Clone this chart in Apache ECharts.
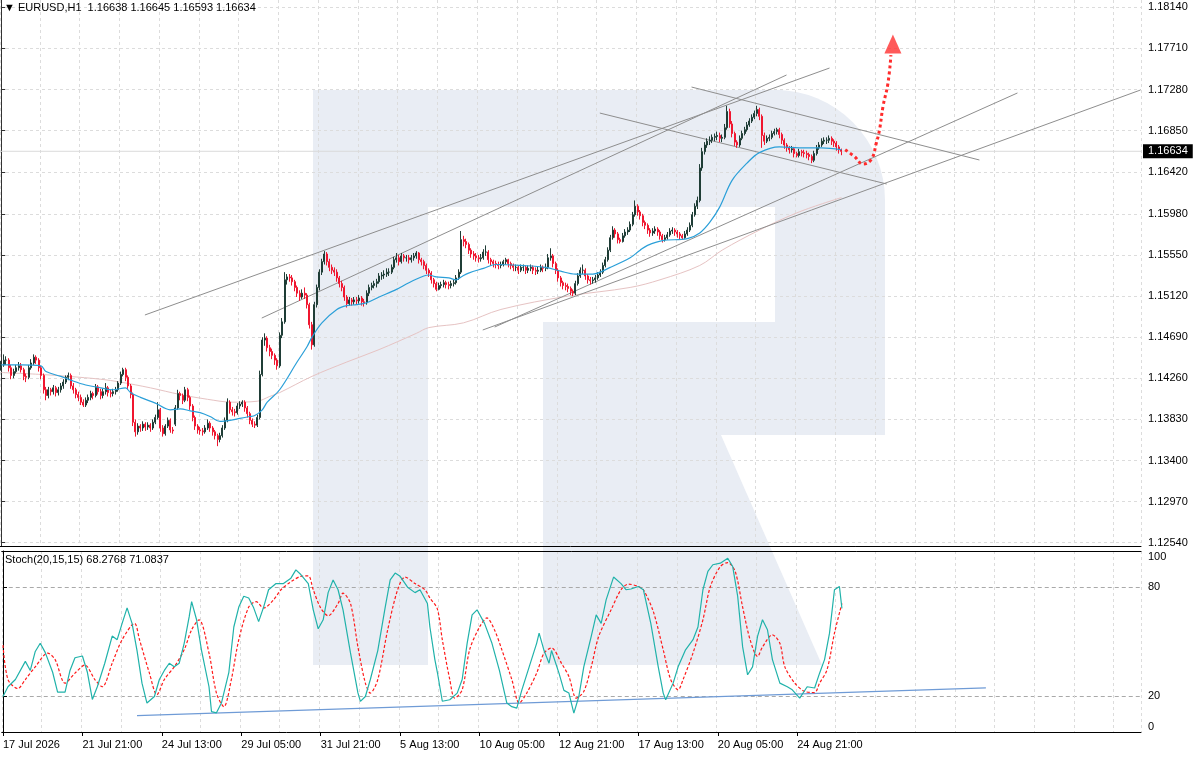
<!DOCTYPE html>
<html><head><meta charset="utf-8">
<script src="https://cdn.jsdelivr.net/npm/echarts@6.0.0/dist/echarts.min.js"></script>
<style>html,body{margin:0;padding:0;background:#fff}#c{width:1200px;height:757px}</style>
</head><body><div id="c"></div>
<script>
const headerText = '\u25BC EURUSD,H1  1.16638 1.16645 1.16593 1.16634';
const stochText = 'Stoch(20,15,15) 68.2768 71.0837';
const timeLabels = ['17 Jul 2026','21 Jul 21:00','24 Jul 13:00','29 Jul 05:00','31 Jul 21:00','5 Aug 13:00','10 Aug 05:00','12 Aug 21:00','17 Aug 13:00','20 Aug 05:00','24 Aug 21:00'];
const priceTicks = [1.12540,1.12970,1.13400,1.13830,1.14260,1.14690,1.15120,1.15550,1.15980,1.16420,1.16850,1.17280,1.17710,1.18140];
const stochTicks = [0,20,80,100];
const lastPrice = 1.16634;
const NCAT = 459;
// 2-hour candles: [open, close, low, high]
const candles = [
[1.1437,1.1440,1.1434,1.1444],[1.1440,1.1445,1.1438,1.1451],[1.1445,1.1445,1.1440,1.1449],[1.1445,1.1437,1.1433,1.1447],[1.1437,1.1429,1.1425,1.1440],
[1.1429,1.1433,1.1426,1.1436],[1.1433,1.1437,1.1431,1.1440],[1.1437,1.1439,1.1434,1.1443],[1.1439,1.1435,1.1432,1.1442],[1.1435,1.1428,1.1424,1.1437],
[1.1428,1.1427,1.1422,1.1431],[1.1427,1.1437,1.1425,1.1440],[1.1437,1.1442,1.1435,1.1446],[1.1442,1.1448,1.1440,1.1451],[1.1448,1.1445,1.1441,1.1450],
[1.1445,1.1437,1.1433,1.1447],[1.1437,1.1429,1.1425,1.1439],[1.1429,1.1414,1.1410,1.1431],[1.1414,1.1408,1.1403,1.1417],[1.1408,1.1414,1.1405,1.1417],
[1.1414,1.1412,1.1408,1.1416],[1.1412,1.1416,1.1409,1.1419],[1.1416,1.1411,1.1407,1.1418],[1.1411,1.1414,1.1408,1.1417],[1.1414,1.1418,1.1411,1.1421],
[1.1418,1.1422,1.1415,1.1425],[1.1422,1.1427,1.1420,1.1429],[1.1427,1.1429,1.1424,1.1432],[1.1429,1.1418,1.1415,1.1431],[1.1418,1.1414,1.1410,1.1421],
[1.1414,1.1409,1.1405,1.1416],[1.1409,1.1406,1.1402,1.1412],[1.1406,1.1401,1.1398,1.1409],[1.1401,1.1398,1.1396,1.1404],[1.1398,1.1403,1.1396,1.1406],
[1.1403,1.1406,1.1400,1.1409],[1.1406,1.1410,1.1403,1.1413],[1.1410,1.1408,1.1404,1.1412],[1.1408,1.1417,1.1406,1.1420],[1.1417,1.1412,1.1409,1.1419],
[1.1412,1.1408,1.1404,1.1415],[1.1408,1.1412,1.1405,1.1415],[1.1412,1.1416,1.1409,1.1421],[1.1416,1.1411,1.1407,1.1418],[1.1411,1.1410,1.1406,1.1414],
[1.1410,1.1412,1.1407,1.1415],[1.1412,1.1414,1.1409,1.1417],[1.1414,1.1421,1.1412,1.1423],[1.1421,1.1430,1.1419,1.1433],[1.1430,1.1435,1.1428,1.1437],
[1.1435,1.1427,1.1423,1.1437],[1.1427,1.1418,1.1414,1.1429],[1.1418,1.1409,1.1405,1.1420],[1.1409,1.1380,1.1376,1.1411],[1.1380,1.1370,1.1365,1.1383],
[1.1370,1.1376,1.1367,1.1379],[1.1376,1.1374,1.1370,1.1378],[1.1374,1.1378,1.1371,1.1381],[1.1378,1.1375,1.1371,1.1380],[1.1375,1.1377,1.1372,1.1380],
[1.1377,1.1374,1.1370,1.1379],[1.1374,1.1380,1.1372,1.1383],[1.1380,1.1385,1.1378,1.1388],[1.1385,1.1393,1.1383,1.1401],[1.1393,1.1374,1.1370,1.1395],
[1.1374,1.1368,1.1365,1.1377],[1.1368,1.1376,1.1366,1.1378],[1.1376,1.1382,1.1374,1.1385],[1.1382,1.1372,1.1369,1.1384],[1.1372,1.1371,1.1368,1.1375],
[1.1378,1.1395,1.1376,1.1398],[1.1395,1.1410,1.1393,1.1414],[1.1410,1.1408,1.1403,1.1412],[1.1408,1.1403,1.1399,1.1410],[1.1403,1.1414,1.1401,1.1417],
[1.1414,1.1406,1.1402,1.1416],[1.1406,1.1397,1.1393,1.1408],[1.1397,1.1385,1.1381,1.1399],[1.1385,1.1376,1.1372,1.1387],[1.1376,1.1372,1.1368,1.1378],
[1.1372,1.1371,1.1367,1.1375],[1.1371,1.1370,1.1366,1.1374],[1.1370,1.1374,1.1368,1.1377],[1.1374,1.1379,1.1372,1.1383],[1.1379,1.1374,1.1370,1.1381],
[1.1374,1.1370,1.1366,1.1376],[1.1370,1.1366,1.1362,1.1372],[1.1366,1.1362,1.1355,1.1368],[1.1362,1.1366,1.1359,1.1369],[1.1366,1.1374,1.1364,1.1377],
[1.1374,1.1382,1.1372,1.1385],[1.1382,1.1401,1.1380,1.1405],[1.1401,1.1393,1.1389,1.1403],[1.1393,1.1391,1.1387,1.1396],[1.1391,1.1390,1.1386,1.1394],
[1.1390,1.1397,1.1388,1.1400],[1.1397,1.1399,1.1394,1.1402],[1.1399,1.1401,1.1396,1.1403],[1.1401,1.1395,1.1391,1.1403],[1.1395,1.1389,1.1385,1.1397],
[1.1389,1.1382,1.1378,1.1391],[1.1382,1.1378,1.1375,1.1384],[1.1378,1.1377,1.1374,1.1381],[1.1377,1.1385,1.1375,1.1388],[1.1385,1.1430,1.1383,1.1434],
[1.1430,1.1466,1.1428,1.1469],[1.1466,1.1468,1.1460,1.1473],[1.1468,1.1458,1.1454,1.1470],[1.1458,1.1454,1.1449,1.1461],[1.1454,1.1450,1.1446,1.1457],
[1.1450,1.1445,1.1440,1.1452],[1.1445,1.1439,1.1435,1.1447],[1.1439,1.1471,1.1437,1.1474],[1.1471,1.1485,1.1468,1.1489],[1.1485,1.1529,1.1483,1.1537],
[1.1529,1.1532,1.1524,1.1535],[1.1532,1.1531,1.1527,1.1535],[1.1531,1.1527,1.1523,1.1534],[1.1527,1.1521,1.1517,1.1529],[1.1521,1.1515,1.1511,1.1523],
[1.1515,1.1511,1.1507,1.1518],[1.1511,1.1515,1.1509,1.1519],[1.1515,1.1513,1.1509,1.1521],[1.1513,1.1503,1.1499,1.1515],[1.1503,1.1482,1.1478,1.1505],
[1.1482,1.1461,1.1456,1.1485],[1.1461,1.1503,1.1459,1.1506],[1.1503,1.1521,1.1500,1.1524],[1.1521,1.1537,1.1518,1.1540],[1.1537,1.1548,1.1534,1.1551],
[1.1548,1.1556,1.1545,1.1559],[1.1556,1.1548,1.1544,1.1558],[1.1548,1.1542,1.1538,1.1551],[1.1542,1.1539,1.1535,1.1545],[1.1539,1.1537,1.1533,1.1542],
[1.1537,1.1531,1.1527,1.1540],[1.1531,1.1525,1.1521,1.1533],[1.1525,1.1521,1.1517,1.1528],[1.1521,1.1511,1.1507,1.1523],[1.1511,1.1504,1.1500,1.1513],
[1.1504,1.1508,1.1502,1.1511],[1.1508,1.1506,1.1502,1.1510],[1.1506,1.1508,1.1503,1.1511],[1.1508,1.1507,1.1503,1.1511],[1.1507,1.1510,1.1504,1.1513],
[1.1510,1.1506,1.1502,1.1512],[1.1506,1.1505,1.1501,1.1509],[1.1505,1.1515,1.1503,1.1518],[1.1515,1.1521,1.1512,1.1524],[1.1521,1.1523,1.1518,1.1526],
[1.1523,1.1525,1.1520,1.1528],[1.1525,1.1527,1.1521,1.1530],[1.1527,1.1533,1.1525,1.1536],[1.1533,1.1534,1.1529,1.1537],[1.1534,1.1535,1.1530,1.1539],
[1.1535,1.1537,1.1532,1.1541],[1.1537,1.1537,1.1533,1.1541],[1.1537,1.1542,1.1535,1.1545],[1.1542,1.1550,1.1540,1.1553],[1.1550,1.1552,1.1547,1.1557],
[1.1552,1.1548,1.1544,1.1555],[1.1548,1.1554,1.1546,1.1557],[1.1554,1.1552,1.1548,1.1556],[1.1552,1.1552,1.1548,1.1555],[1.1552,1.1550,1.1546,1.1555],
[1.1550,1.1552,1.1547,1.1555],[1.1552,1.1554,1.1549,1.1557],[1.1554,1.1557,1.1551,1.1559],[1.1557,1.1550,1.1546,1.1558],[1.1550,1.1548,1.1544,1.1552],
[1.1548,1.1544,1.1540,1.1550],[1.1544,1.1539,1.1535,1.1546],[1.1539,1.1536,1.1532,1.1541],[1.1536,1.1529,1.1525,1.1538],[1.1529,1.1525,1.1521,1.1531],
[1.1525,1.1519,1.1517,1.1527],[1.1519,1.1523,1.1518,1.1526],[1.1523,1.1524,1.1520,1.1527],[1.1524,1.1526,1.1521,1.1529],[1.1526,1.1524,1.1520,1.1528],
[1.1524,1.1523,1.1519,1.1527],[1.1523,1.1525,1.1520,1.1528],[1.1525,1.1526,1.1522,1.1529],[1.1526,1.1531,1.1524,1.1534],[1.1531,1.1537,1.1529,1.1540],
[1.1537,1.1571,1.1535,1.1580],[1.1571,1.1569,1.1564,1.1575],[1.1569,1.1566,1.1562,1.1572],[1.1566,1.1560,1.1556,1.1568],[1.1560,1.1556,1.1552,1.1562],
[1.1556,1.1554,1.1550,1.1559],[1.1554,1.1552,1.1548,1.1557],[1.1552,1.1551,1.1547,1.1555],[1.1551,1.1552,1.1548,1.1556],[1.1552,1.1558,1.1550,1.1561],
[1.1558,1.1558,1.1554,1.1565],[1.1558,1.1550,1.1546,1.1560],[1.1550,1.1548,1.1544,1.1552],[1.1548,1.1546,1.1542,1.1550],[1.1546,1.1545,1.1541,1.1549],
[1.1545,1.1544,1.1540,1.1548],[1.1544,1.1545,1.1541,1.1548],[1.1545,1.1548,1.1543,1.1550],[1.1548,1.1550,1.1545,1.1552],[1.1550,1.1546,1.1542,1.1551],
[1.1546,1.1544,1.1540,1.1548],[1.1544,1.1542,1.1538,1.1546],[1.1542,1.1542,1.1538,1.1545],[1.1542,1.1539,1.1535,1.1544],[1.1539,1.1542,1.1537,1.1545],
[1.1542,1.1542,1.1538,1.1545],[1.1542,1.1539,1.1535,1.1544],[1.1539,1.1541,1.1536,1.1544],[1.1541,1.1542,1.1538,1.1545],[1.1542,1.1539,1.1535,1.1544],
[1.1539,1.1538,1.1534,1.1542],[1.1538,1.1539,1.1535,1.1543],[1.1539,1.1542,1.1537,1.1545],[1.1542,1.1541,1.1537,1.1544],[1.1541,1.1542,1.1538,1.1546],
[1.1542,1.1552,1.1540,1.1556],[1.1552,1.1554,1.1549,1.1562],[1.1554,1.1546,1.1542,1.1556],[1.1546,1.1539,1.1535,1.1548],[1.1539,1.1531,1.1527,1.1541],
[1.1531,1.1526,1.1522,1.1533],[1.1526,1.1523,1.1519,1.1528],[1.1523,1.1522,1.1518,1.1526],[1.1522,1.1520,1.1516,1.1525],[1.1520,1.1517,1.1513,1.1522],
[1.1517,1.1515,1.1512,1.1519],[1.1515,1.1525,1.1513,1.1528],[1.1525,1.1533,1.1523,1.1536],[1.1533,1.1539,1.1531,1.1542],[1.1539,1.1539,1.1535,1.1545],
[1.1539,1.1533,1.1529,1.1541],[1.1533,1.1529,1.1525,1.1535],[1.1529,1.1528,1.1524,1.1532],[1.1528,1.1529,1.1525,1.1532],[1.1529,1.1531,1.1526,1.1534],
[1.1531,1.1534,1.1529,1.1537],[1.1534,1.1537,1.1532,1.1540],[1.1537,1.1544,1.1535,1.1547],[1.1544,1.1550,1.1542,1.1553],[1.1550,1.1560,1.1548,1.1563],
[1.1560,1.1573,1.1558,1.1576],[1.1573,1.1581,1.1571,1.1585],[1.1581,1.1577,1.1573,1.1583],[1.1577,1.1571,1.1567,1.1579],[1.1571,1.1569,1.1567,1.1573],
[1.1569,1.1575,1.1568,1.1578],[1.1575,1.1579,1.1573,1.1582],[1.1579,1.1581,1.1576,1.1584],[1.1581,1.1587,1.1579,1.1590],[1.1587,1.1597,1.1585,1.1600],
[1.1597,1.1606,1.1595,1.1612],[1.1606,1.1600,1.1596,1.1608],[1.1600,1.1596,1.1592,1.1602],[1.1596,1.1589,1.1585,1.1598],[1.1589,1.1586,1.1582,1.1591],
[1.1586,1.1581,1.1577,1.1588],[1.1581,1.1578,1.1574,1.1583],[1.1578,1.1580,1.1575,1.1583],[1.1580,1.1582,1.1577,1.1585],[1.1582,1.1579,1.1575,1.1584],
[1.1579,1.1575,1.1571,1.1581],[1.1575,1.1571,1.1568,1.1577],[1.1571,1.1573,1.1569,1.1576],[1.1573,1.1576,1.1571,1.1579],[1.1576,1.1580,1.1574,1.1583],
[1.1580,1.1581,1.1577,1.1584],[1.1581,1.1579,1.1575,1.1583],[1.1579,1.1577,1.1573,1.1581],[1.1577,1.1575,1.1571,1.1579],[1.1575,1.1573,1.1571,1.1577],
[1.1573,1.1577,1.1572,1.1580],[1.1577,1.1581,1.1575,1.1584],[1.1581,1.1586,1.1579,1.1589],[1.1586,1.1597,1.1584,1.1600],[1.1597,1.1606,1.1595,1.1609],
[1.1606,1.1612,1.1603,1.1616],[1.1612,1.1646,1.1610,1.1650],[1.1646,1.1663,1.1643,1.1667],[1.1663,1.1670,1.1660,1.1673],[1.1670,1.1674,1.1667,1.1677],
[1.1674,1.1675,1.1670,1.1679],[1.1675,1.1678,1.1672,1.1681],[1.1678,1.1679,1.1674,1.1682],[1.1679,1.1680,1.1675,1.1684],[1.1680,1.1677,1.1673,1.1683],
[1.1677,1.1678,1.1673,1.1681],[1.1678,1.1688,1.1676,1.1692],[1.1688,1.1705,1.1686,1.1711],[1.1705,1.1692,1.1688,1.1708],[1.1692,1.1682,1.1678,1.1695],
[1.1682,1.1673,1.1669,1.1684],[1.1673,1.1670,1.1667,1.1675],[1.1670,1.1677,1.1668,1.1680],[1.1677,1.1682,1.1675,1.1685],[1.1682,1.1686,1.1680,1.1689],
[1.1686,1.1691,1.1684,1.1694],[1.1691,1.1695,1.1689,1.1698],[1.1695,1.1699,1.1693,1.1702],[1.1699,1.1703,1.1697,1.1706],[1.1703,1.1707,1.1700,1.1711],
[1.1707,1.1700,1.1696,1.1709],[1.1700,1.1680,1.1667,1.1702],[1.1680,1.1674,1.1670,1.1683],[1.1674,1.1677,1.1672,1.1680],[1.1677,1.1678,1.1674,1.1681],
[1.1678,1.1682,1.1676,1.1685],[1.1682,1.1684,1.1680,1.1687],[1.1684,1.1686,1.1681,1.1688],[1.1686,1.1681,1.1677,1.1688],[1.1681,1.1675,1.1671,1.1683],
[1.1675,1.1670,1.1666,1.1677],[1.1670,1.1667,1.1663,1.1672],[1.1667,1.1665,1.1661,1.1669],[1.1665,1.1666,1.1662,1.1669],[1.1666,1.1661,1.1657,1.1668],
[1.1661,1.1659,1.1657,1.1663],[1.1659,1.1663,1.1657,1.1666],[1.1663,1.1662,1.1658,1.1665],[1.1662,1.1661,1.1657,1.1665],[1.1661,1.1660,1.1656,1.1664],
[1.1660,1.1658,1.1654,1.1662],[1.1658,1.1654,1.1651,1.1660],[1.1654,1.1661,1.1652,1.1664],[1.1661,1.1667,1.1659,1.1670],[1.1667,1.1670,1.1665,1.1673],
[1.1670,1.1674,1.1668,1.1677],[1.1674,1.1675,1.1671,1.1678],[1.1675,1.1675,1.1671,1.1678],[1.1675,1.1677,1.1672,1.1680],[1.1677,1.1674,1.1670,1.1679],
[1.1674,1.1672,1.1668,1.1676],[1.1672,1.1668,1.1664,1.1674],[1.1668,1.1665,1.1661,1.1670],[1.16650,1.16634,1.16593,1.16662]
];
// moving averages as [bar index, price]
const maBlue = [[0,1.1440],[8,1.1440],[16,1.1439],[18,1.1433],[24,1.1428],[28,1.1424],[34,1.1419],[40,1.1416],[45,1.1414],[50,1.1416],[52,1.1411],[56,1.1406],[62,1.1400],[68,1.1393],[72,1.1394],[76,1.1392],[80,1.1390],[84,1.1386],[88,1.1381],[92,1.1382],[96,1.1384],[100,1.1386],[102,1.1387],[105,1.1393],[107,1.1401],[112,1.1414],[119,1.1443],[123,1.1459],[125,1.1469],[129,1.1484],[135,1.1498],[139,1.1502],[143,1.1503],[147,1.1505],[152,1.1511],[159,1.1519],[164,1.1526],[170,1.1533],[172,1.1534],[175,1.1532],[180,1.1531],[183,1.1529],[185,1.1532],[188,1.1536],[194,1.1541],[199,1.1545],[209,1.1544],[219,1.1542],[225,1.1538],[231,1.1535],[238,1.1535],[245,1.1542],[253,1.1552],[257,1.1560],[260,1.1565],[266,1.1570],[276,1.1572],[281,1.1578],[285,1.1589],[289,1.1605],[294,1.1633],[300,1.1651],[305,1.1662],[313,1.1668],[321,1.1667],[330,1.1667],[338,1.1665]];
const maPink = [[0,1.1432],[16,1.1430],[27,1.1428],[40,1.1425],[48,1.1422],[60,1.1416],[72,1.1409],[83,1.1404],[93,1.1401],[103,1.1402],[108,1.1407],[112,1.1411],[125,1.1428],[139,1.1443],[152,1.1456],[167,1.1473],[172,1.1479],[186,1.1484],[201,1.1498],[228,1.1512],[253,1.1521],[265,1.1529],[281,1.1544],[290,1.1560],[305,1.1581],[321,1.1600],[338,1.1615]];
// stochastic %K and %D as [bar index, value]
const stochK = [[0,19.6],[2,25],[5,29],[9,39],[11,34],[13,44.5],[15,49],[17,44],[20,33],[22,22],[25,22],[27,34],[29,41],[32,42],[34,33],[36,18],[38,25],[41,38],[44,53],[46,51],[48,60],[50,68.6],[52,60],[54,45],[56,27],[58,16],[61,19.6],[63,29],[65,34],[67,38],[69,36],[71,38],[73,49],[75,63.6],[76,72],[78,62],[80,45],[83,25],[84,11.3],[86,10.6],[88,16],[91,33],[93,58],[95,69],[97,75],[99,74],[101,68.6],[103,61],[105,69],[107,78.6],[110,82],[113,82],[116,85],[118,89.6],[120,87],[123,82],[125,67.5],[127,57],[129,62],[131,77],[133,84],[135,78.6],[137,67.5],[140,43.7],[143,21.6],[144,16.9],[146,19.6],[148,29],[151,45],[154,69],[156,84],[158,87.8],[160,86],[163,80],[166,77],[168,78.6],[171,71],[172,58],[174,40],[175,33],[177,17],[180,17.8],[183,21.5],[185,29],[187,49],[189,64.7],[191,67.5],[194,60],[197,49],[200,34],[203,16],[205,14],[207,13.2],[209,23],[212,36],[215,49],[216,54.6],[218,45],[220,38],[221,45],[224,32.5],[226,23],[228,21.5],[230,10.4],[232,19.6],[234,36],[237,52.8],[239,64.7],[241,60],[243,73],[246,85.6],[249,82],[251,78.6],[253,79],[256,80.4],[258,78.6],[261,60],[264,36],[266,21.5],[267,17.8],[270,27],[272,36],[275,45.4],[278,51],[280,58],[282,78.6],[284,88.7],[286,92.4],[289,93.3],[292,96],[294,91.4],[296,75],[298,47],[300,31.6],[302,36],[304,52.8],[306,62],[308,56.5],[310,40],[313,27],[316,25],[318,23.3],[321,18.7],[324,25],[327,24.3],[329,32.5],[331,40],[333,54.6],[335,78.6],[337,80.4],[338,68.3]];
const stochD = [[0,48],[2,29],[6,24],[9,29],[13,36],[18,43.6],[21,40],[25,27],[29,32.5],[33,37],[37,29],[40,25],[44,38],[48,51],[53,60],[55,51],[59,32.5],[62,20.6],[65,29],[69,36],[73,45.4],[76,56.5],[79,62],[83,43.6],[86,21.5],[89,14],[92,29],[95,51],[99,69],[102,72],[105,68.5],[109,73],[112,78.6],[116,83],[120,86],[123,86.3],[125,78.6],[128,68.5],[131,64.2],[135,71],[137,76.7],[140,71],[143,47],[146,27],[148,21.5],[151,29],[155,56.5],[159,78.6],[162,85.6],[166,82],[170,78.6],[172,74],[175,68],[177,51],[180,29],[182,18.7],[185,23.3],[188,45.4],[192,58],[195,63],[198,56.5],[201,45.4],[205,29],[208,16],[211,21.5],[215,32.5],[218,43.6],[221,46.4],[225,38],[228,30.7],[231,18.7],[234,22.4],[237,36],[240,52.8],[245,67.5],[249,78.6],[252,81.7],[256,80.4],[258,78.6],[262,66.6],[266,45.4],[269,29],[272,23.3],[274,29],[278,43.6],[282,62],[285,80.4],[289,91.4],[292,93.6],[295,88.7],[298,69],[301,51],[304,41.7],[306,47],[310,53.7],[313,49],[315,36],[319,27],[323,22.4],[327,21.8],[329,27],[332,34.4],[335,54.6],[338,71.1]];
// drawn trend lines: [[bar, price],[bar, price]]
const trendLines = [
  [[57.8,1.14922],[333.2,1.17505]],
  [[104.8,1.14890],[315.9,1.17432]],
  [[198.5,1.14796],[408.8,1.17244]],
  [[193.7,1.14765],[458.3,1.17275]],
  [[277.7,1.17306],[393.5,1.16543]],
  [[240.8,1.17034],[356.2,1.16292]]
];
const stochTrend = [[54,9.0],[396,24.4]];
const forecast = [[339.5,1.16650],[343.3,1.16578],[346.6,1.16501],[350,1.16550],[352,1.16718],[353.3,1.16857],[354.7,1.17101],[356.7,1.17345],[357.9,1.17640]];
const forecastHead = [[358.7,1.17756]];
const priceLine = [[-0.5,lastPrice],[NCAT - 0.5,lastPrice]];

const FONT = 'Liberation Sans, Arial, sans-serif';
const cats = Array.from({length: NCAT}, (_, i) => String(i));
const gridLine = {show: true, interval: (i) => i % 16 === 0, lineStyle: {color: '#dcdcdc', type: [3, 3], width: 1}};
const labelIdx = (i) => i % 32 === 0 && (i / 32) < timeLabels.length;
const wm = '#e9edf4';

const chart = echarts.init(document.getElementById('c'));
chart.setOption({
  animation: false,
  backgroundColor: '#fff',
  title: [
    {text: headerText, left: 4, top: 2, padding: 0, textStyle: {fontSize: 11, fontWeight: 'normal', color: '#000', fontFamily: FONT}},
    {text: stochText, left: 5, top: 554, padding: 0, textStyle: {fontSize: 11, fontWeight: 'normal', color: '#000', fontFamily: FONT}}
  ],
  graphic: {elements: [
    {type: 'rect', z: -10, silent: true, shape: {x: 313, y: 90, width: 115, height: 575}, style: {fill: wm}},
    {type: 'rect', z: -10, silent: true, shape: {x: 313, y: 90, width: 470, height: 117}, style: {fill: wm}},
    {type: 'rect', z: -10, silent: true, shape: {x: 775, y: 90, width: 110, height: 345, r: [0, 110, 0, 0]}, style: {fill: wm}},
    {type: 'rect', z: -10, silent: true, shape: {x: 543, y: 322, width: 342, height: 113}, style: {fill: wm}},
    {type: 'polygon', z: -10, silent: true, shape: {points: [[543, 435], [721, 435], [822, 665], [543, 665]]}, style: {fill: wm}}
  ]},
  grid: [
    {left: 0, right: 59, top: 0, height: 546},
    {left: 0, right: 59, top: 551, height: 181}
  ],
  xAxis: [
    {type: 'category', gridIndex: 0, data: cats, boundaryGap: true,
     axisLine: {show: true, lineStyle: {color: '#000', width: 1}}, axisTick: {show: false}, axisLabel: {show: false},
     splitLine: gridLine},
    {type: 'value', gridIndex: 0, min: -0.5, max: NCAT - 0.5, show: false},
    {type: 'category', gridIndex: 1, data: cats, boundaryGap: true,
     axisLine: {show: true, lineStyle: {color: '#000', width: 1}},
     axisTick: {show: true, interval: labelIdx, alignWithLabel: true, length: 4, lineStyle: {color: '#000'}},
     axisLabel: {interval: labelIdx, formatter: (v) => timeLabels[Math.round(Number(v) / 32)] || '', align: 'left', margin: 7, color: '#000', fontSize: 11, fontFamily: FONT},
     splitLine: gridLine},
    {type: 'value', gridIndex: 1, min: -0.5, max: NCAT - 0.5, position: 'top',
     axisLine: {show: true, onZero: false, lineStyle: {color: '#000', width: 1}}, axisTick: {show: false}, axisLabel: {show: false}, splitLine: {show: false}}
  ],
  yAxis: [
    {type: 'value', gridIndex: 0, position: 'right', min: 1.125058, max: 1.182164,
     axisLine: {show: true, lineStyle: {color: '#333', width: 1}},
     axisTick: {show: true, length: 4, customValues: priceTicks, lineStyle: {color: '#333'}},
     axisLabel: {customValues: priceTicks, formatter: (v) => v.toFixed(5), margin: 7, color: '#000', fontSize: 11, fontFamily: FONT},
     splitLine: {show: true, lineStyle: {color: '#dcdcdc', type: [3, 3], width: 1}}},
    {type: 'value', gridIndex: 1, position: 'right', min: 0, max: 100,
     axisLine: {show: true, lineStyle: {color: '#000', width: 1}},
     axisTick: {show: true, length: 4, customValues: stochTicks, lineStyle: {color: '#000'}},
     axisLabel: {customValues: stochTicks, margin: 7, color: '#000', fontSize: 11, fontFamily: FONT, verticalAlignMinLabel: 'bottom', verticalAlignMaxLabel: 'top'},
     splitLine: {show: true, lineStyle: {color: '#a9a9a9', type: [4, 3], width: 1}}}
  ],
  series: [
    {type: 'line', xAxisIndex: 1, yAxisIndex: 0, data: priceLine, symbol: 'none', z: 2, silent: true,
     lineStyle: {color: '#dadada', width: 1},
     endLabel: {show: true, formatter: () => lastPrice.toFixed(5), backgroundColor: '#000', color: '#fff', padding: [2, 5, 1, 5], fontSize: 11, fontFamily: FONT, distance: 2}},
    {type: 'candlestick', xAxisIndex: 0, yAxisIndex: 0, data: candles, barWidth: 1.5, z: 4,
     itemStyle: {color: '#1f3d36', color0: '#f0162f', borderColor: '#1f3d36', borderColor0: '#f0162f', borderWidth: 1}},
    {type: 'line', name: 'maBlue', xAxisIndex: 1, yAxisIndex: 0, data: maBlue, smooth: 0.35, symbol: 'none', z: 5, lineStyle: {color: '#2a9fd8', width: 1.2}},
    {type: 'line', name: 'maPink', xAxisIndex: 1, yAxisIndex: 0, data: maPink, smooth: 0.35, symbol: 'none', z: 3, lineStyle: {color: '#e6c3c3', width: 1}},
    ...trendLines.map((seg) => ({type: 'line', xAxisIndex: 1, yAxisIndex: 0, data: seg, symbol: 'none', z: 3, silent: true, lineStyle: {color: '#8e8e8e', width: 1}})),
    {type: 'line', xAxisIndex: 1, yAxisIndex: 0, data: forecast, smooth: 0.45, symbol: 'none', z: 6, lineStyle: {color: '#ff2b2b', width: 3, type: [3, 3]}},
    {type: 'scatter', xAxisIndex: 1, yAxisIndex: 0, data: forecastHead, symbol: 'triangle', symbolSize: [17, 19], z: 6, itemStyle: {color: '#ff3030'}},
    {type: 'line', xAxisIndex: 3, yAxisIndex: 1, data: stochTrend, symbol: 'none', z: 3, lineStyle: {color: '#6f9bd6', width: 1.3}},
    {type: 'line', xAxisIndex: 3, yAxisIndex: 1, data: stochD, smooth: 0.3, symbol: 'none', z: 4, lineStyle: {color: '#ff1a1a', width: 1.2, type: [3, 2]}},
    {type: 'line', xAxisIndex: 3, yAxisIndex: 1, data: stochK, symbol: 'none', z: 5, lineStyle: {color: '#20b2aa', width: 1.2}}
  ]
});
</script></body></html>
